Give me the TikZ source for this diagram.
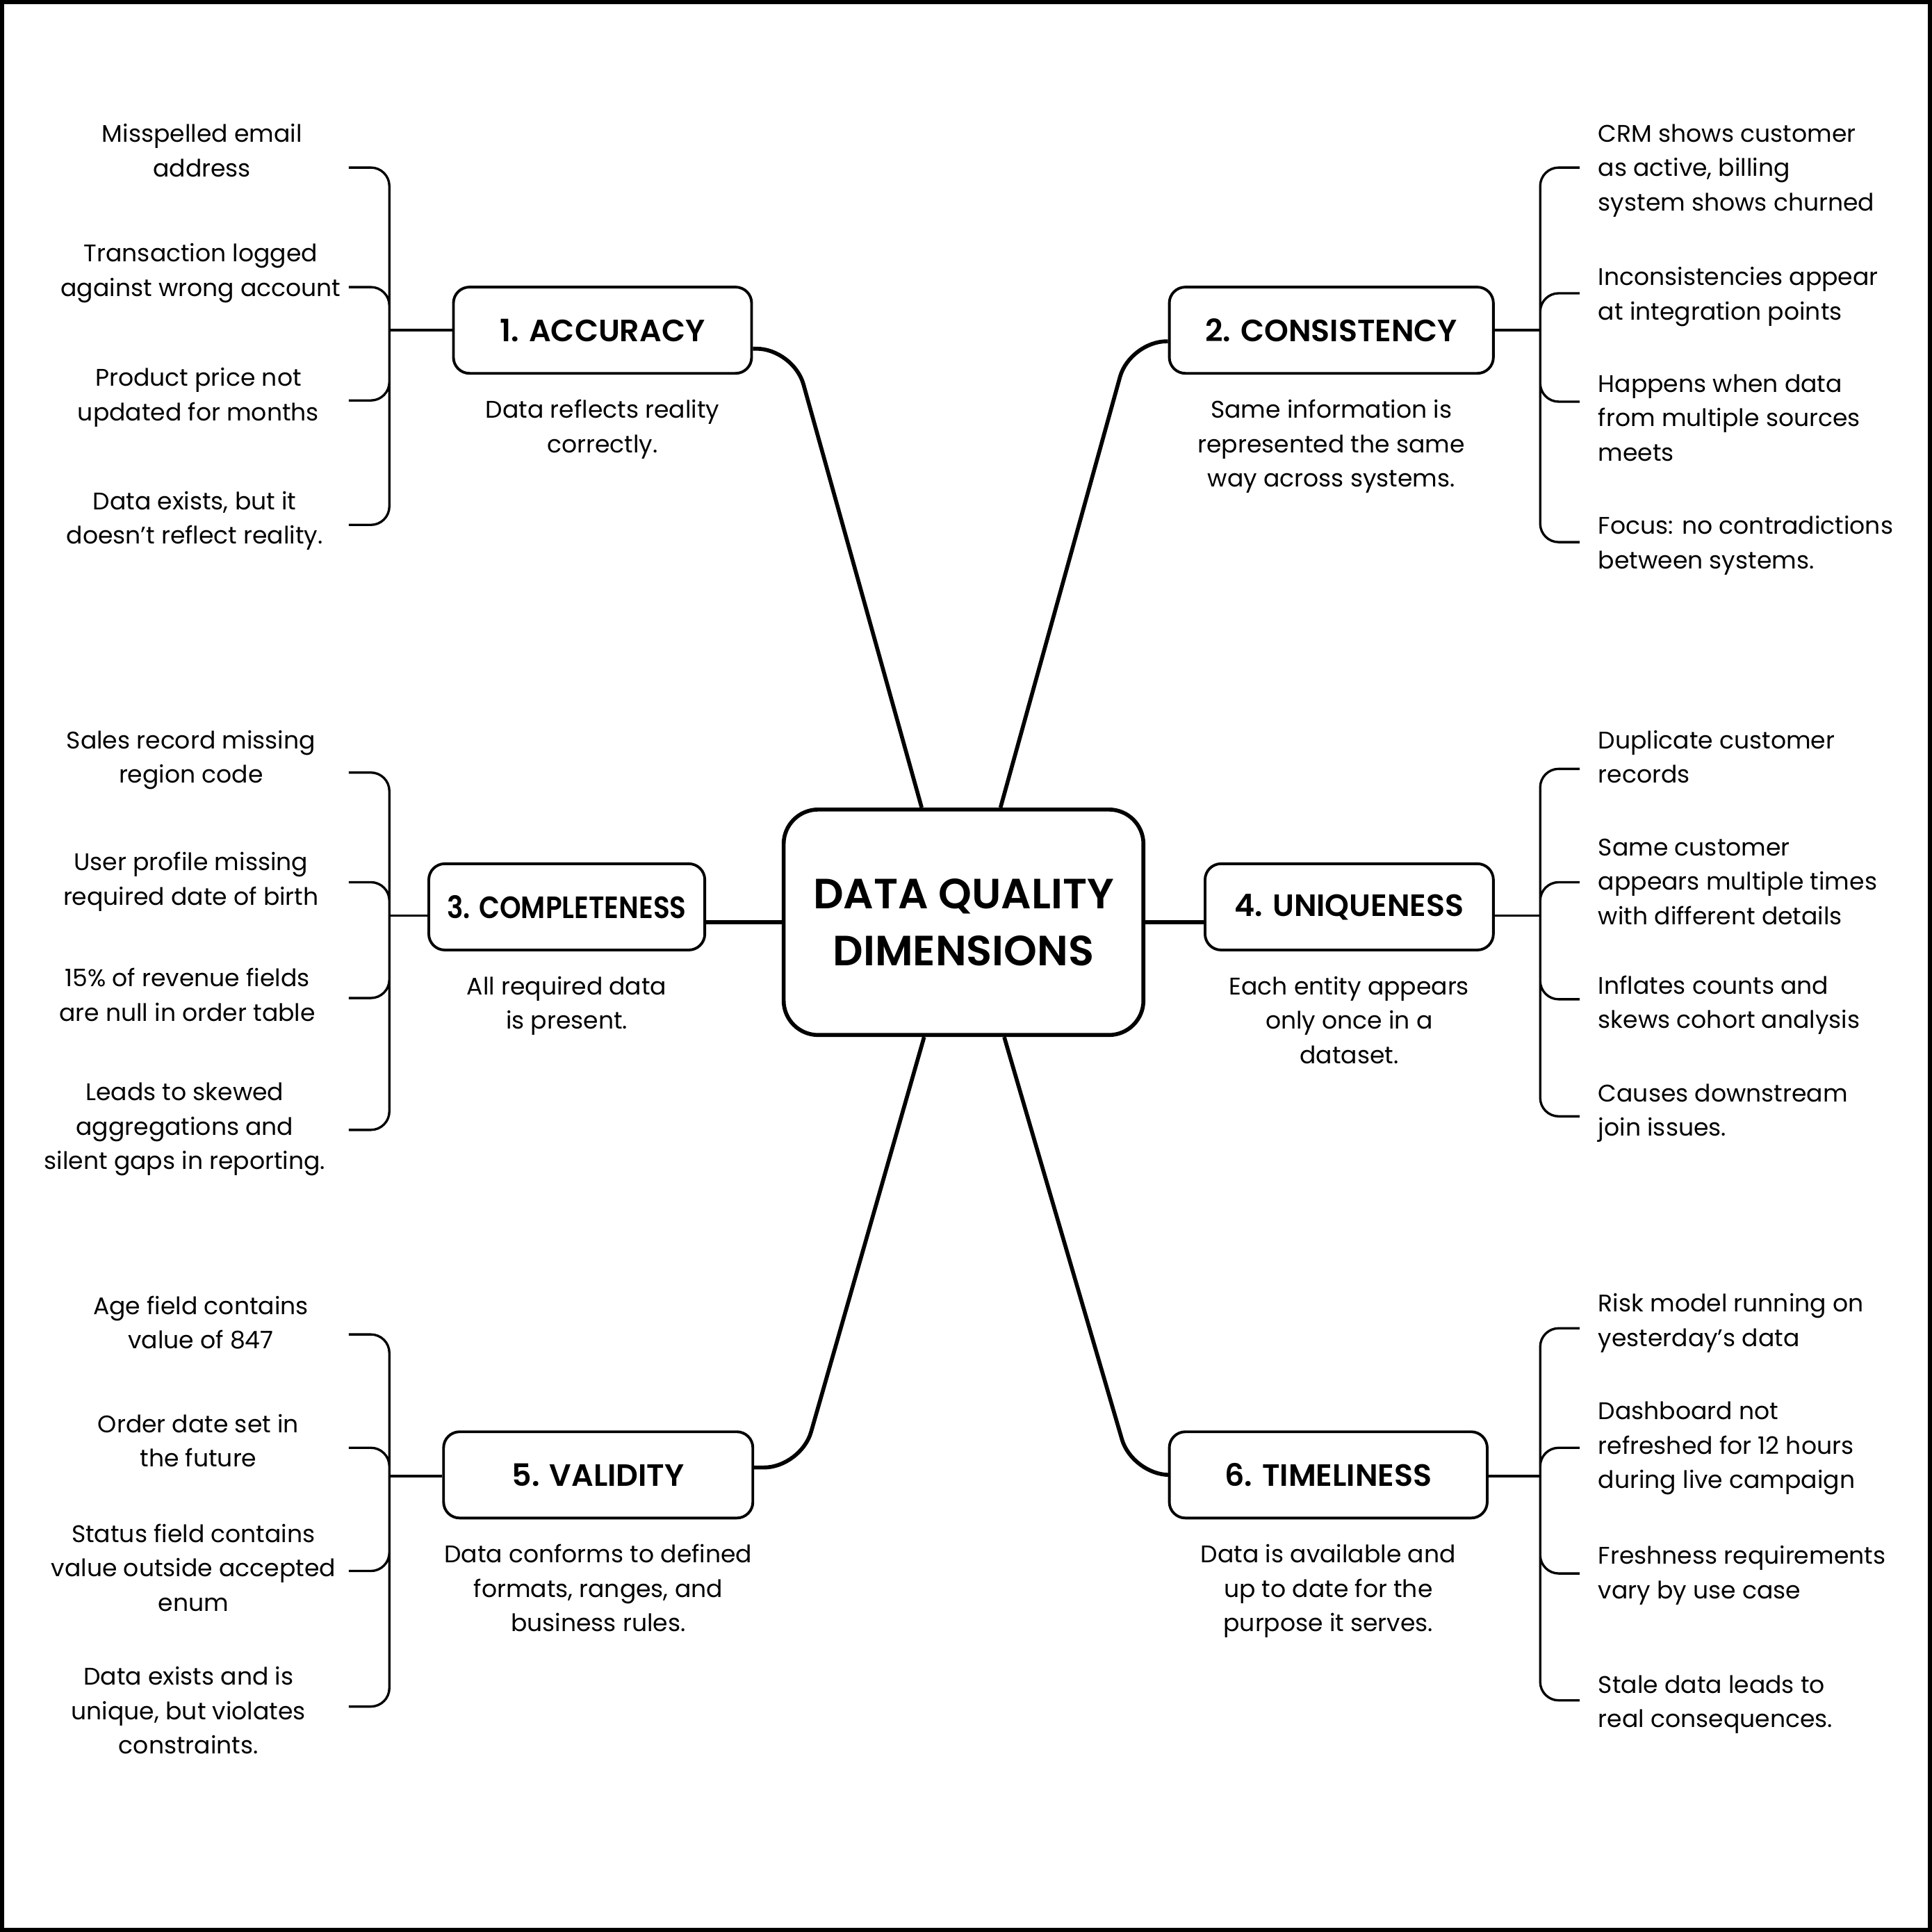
\documentclass[tikz,border=0pt]{standalone}
\usepackage{fontspec}
\setmainfont{Poppins}
\newfontfamily\semibold{Poppins SemiBold}
\usetikzlibrary{positioning}

\newcommand{\txtfont}{\fontsize{19.5}{28}\selectfont}
\newcommand{\dimfont}{\semibold\fontsize{25}{28}\selectfont}
\newcommand{\hubfont}{\semibold\fontsize{34.3}{46}\selectfont}

\begin{document}
\begin{tikzpicture}[
      x=1pt, y=-1pt,
      hub/.style={
        draw,
        line width=3.2pt,
        rounded corners=28pt,
        minimum width=292pt,
        minimum height=183pt,
        align=center,
        font=\hubfont
      },
      dim/.style={
        draw,
        line width=2.2pt,
        rounded corners=13pt,
        minimum height=70pt,
        inner sep=0pt,
        font=\dimfont
      },
      desc/.style={align=center, inner sep=0pt, font=\txtfont},
      litem/.style={align=center, inner sep=0pt, anchor=north, font=\txtfont},
      ritem/.style={align=left, inner sep=0pt, anchor=north west, font=\txtfont},
      link/.style={line width=3.2pt, rounded corners=30pt},
      tick/.style={line width=1.9pt, rounded corners=15pt}
    ]

    % page and frame
    \path[fill=white] (0,0) rectangle (1568,1568);
    \draw[line width=3.4pt] (1.7,1.7) rectangle (1566.3,1566.3);

    % centre and the six dimensions
    \node[hub] (hub) at (782,748.5) {DATA QUALITY\\DIMENSIONS};

    \node[dim, minimum width=242pt] (acc)  at (489,268)    {1. ACCURACY};
    \node[dim, minimum width=263pt] (cons) at (1080.5,268) {2. CONSISTENCY};
    \node[dim, minimum width=224pt] (comp) at (460,736)    {\scalebox{0.88}[1]{3. COMPLETENESS}};
    \node[dim, minimum width=234pt] (uniq) at (1095,736)   {4. UNIQUENESS};
    \node[dim, minimum width=251pt] (val)  at (485.5,1197) {5. VALIDITY};
    \node[dim, minimum width=258pt] (time) at (1078,1197)  {6. TIMELINESS};

    \node[desc, below=20pt of acc]  (acc-d)  {Data reflects reality\\correctly.};
    \node[desc, below=20pt of cons] (cons-d) {Same information is\\represented the same\\way across systems.};
    \node[desc, below=20pt of comp] (comp-d) {All required data\\is present.};
    \node[desc, below=20pt of uniq] (uniq-d) {Each entity appears\\only once in a\\dataset.};
    \node[desc, below=20pt of val]  (val-d)  {Data conforms to defined\\formats, ranges, and\\business rules.};
    \node[desc, below=20pt of time] (time-d) {Data is available and\\up to date for the\\purpose it serves.};

    % links from the centre
    \draw[link] ([yshift=-15pt]acc.east) -- (644,283) -- ([xshift=-34pt]hub.north);
    \draw[link] ([yshift=-9pt]cons.west) -- (917,277) -- ([xshift=30pt]hub.north);
    \draw[link] ([yshift=6pt]val.east) -- (650,1191) -- ([xshift=-32pt]hub.south);
    \draw[link] (time.west) -- (919,1197) -- ([xshift=33pt]hub.south);
    \draw[link] (hub.west) -- (hub.west -| comp.east);
    \draw[link] (hub.east) -- (hub.east -| uniq.west);

    % examples, left side
    \node[litem] (acc-1) at (164,100.5) {Misspelled email\\address};
    \node[litem] (acc-2) at (163,197.5) {Transaction logged\\against wrong account};
    \node[litem] (acc-3) at (161,298.5) {Product price not\\updated for months};
    \node[litem] (acc-4) at (158,398.5) {Data exists, but it\\doesn’t reflect reality.};

    \node[litem] (comp-1) at (155,592.5) {Sales record missing\\region code};
    \node[litem] (comp-2) at (155,691.5) {User profile missing\\required date of birth};
    \node[litem] (comp-3) at (152,785.5) {15\% of revenue fields\\are null in order table};
    \node[litem] (comp-4) at (150,878.5) {Leads to skewed\\aggregations and\\silent gaps in reporting.};

    \node[litem] (val-1) at (163,1051.5) {Age field contains\\value of 847};
    \node[litem] (val-2) at (161,1147.5) {Order date set in\\the future};
    \node[litem] (val-3) at (157,1236.5) {Status field contains\\value outside accepted\\enum};
    \node[litem] (val-4) at (153,1352.5) {Data exists and is\\unique, but violates\\constraints.};

    % examples, right side
    \node[ritem] (cons-1) at (1297,100.5) {CRM shows customer\\as active, billing\\system shows churned};
    \node[ritem] (cons-2) at (1297,216.5) {Inconsistencies appear\\at integration points};
    \node[ritem] (cons-3) at (1297,303.5) {Happens when data\\from multiple sources\\meets};
    \node[ritem] (cons-4) at (1297,418.5) {Focus: no contradictions\\between systems.};

    \node[ritem] (uniq-1) at (1297,592.5) {Duplicate customer\\records};
    \node[ritem] (uniq-2) at (1297,680.5) {Same customer\\appears multiple times\\with different details};
    \node[ritem] (uniq-3) at (1297,791.5) {Inflates counts and\\skews cohort analysis};
    \node[ritem] (uniq-4) at (1297,879.5) {Causes downstream\\join issues.};

    \node[ritem] (time-1) at (1297,1049.5) {Risk model running on\\yesterday’s data};
    \node[ritem] (time-2) at (1297,1137.5) {Dashboard not\\refreshed for 12 hours\\during live campaign};
    \node[ritem] (time-3) at (1297,1254.5) {Freshness requirements\\vary by use case};
    \node[ritem] (time-4) at (1297,1359.5) {Stale data leads to\\real consequences.};

    % brackets
    \coordinate (acc-j)  at (316,268);
    \coordinate (comp-j) at (316,743);
    \coordinate (val-j)  at (316,1198);
    \coordinate (cons-j) at (1250,268);
    \coordinate (uniq-j) at (1250,743);
    \coordinate (time-j) at (1250,1198);

    \coordinate (acc-t1) at (283,136);   \coordinate (acc-t2) at (283,233);
    \coordinate (acc-t3) at (283,325);   \coordinate (acc-t4) at (283,426);
    \coordinate (comp-t1) at (283,627);  \coordinate (comp-t2) at (283,716);
    \coordinate (comp-t3) at (283,810);  \coordinate (comp-t4) at (283,917);
    \coordinate (val-t1) at (283,1083);  \coordinate (val-t2) at (283,1175);
    \coordinate (val-t3) at (283,1275);  \coordinate (val-t4) at (283,1385);
    \coordinate (cons-t1) at (1282,136); \coordinate (cons-t2) at (1282,238);
    \coordinate (cons-t3) at (1282,326); \coordinate (cons-t4) at (1282,440);
    \coordinate (uniq-t1) at (1282,624); \coordinate (uniq-t2) at (1282,716);
    \coordinate (uniq-t3) at (1282,811); \coordinate (uniq-t4) at (1282,906);
    \coordinate (time-t1) at (1282,1078); \coordinate (time-t2) at (1282,1175);
    \coordinate (time-t3) at (1282,1277); \coordinate (time-t4) at (1282,1380);

    \draw[tick] (acc-t1) -| (acc-j) (acc-t2) -| (acc-j) (acc-t3) -| (acc-j) (acc-t4) -| (acc-j);
    \draw[tick] (comp-t1) -| (comp-j) (comp-t2) -| (comp-j) (comp-t3) -| (comp-j) (comp-t4) -| (comp-j);
    \draw[tick] (val-t1) -| (val-j) (val-t2) -| (val-j) (val-t3) -| (val-j) (val-t4) -| (val-j);
    \draw[tick] (cons-t1) -| (cons-j) (cons-t2) -| (cons-j) (cons-t3) -| (cons-j) (cons-t4) -| (cons-j);
    \draw[tick] (uniq-t1) -| (uniq-j) (uniq-t2) -| (uniq-j) (uniq-t3) -| (uniq-j) (uniq-t4) -| (uniq-j);
    \draw[tick] (time-t1) -| (time-j) (time-t2) -| (time-j) (time-t3) -| (time-j) (time-t4) -| (time-j);

    \draw[tick] (acc-j) -- (acc.west);
    \draw[tick] (comp-j) -- (comp-j -| comp.west);
    \draw[tick] (val-j) -- (val-j -| val.west);
    \draw[tick] (cons-j) -- (cons.east);
    \draw[tick] (uniq-j) -- (uniq-j -| uniq.east);
    \draw[tick] (time-j) -- (time-j -| time.east);

    \end{tikzpicture}
\end{document}
